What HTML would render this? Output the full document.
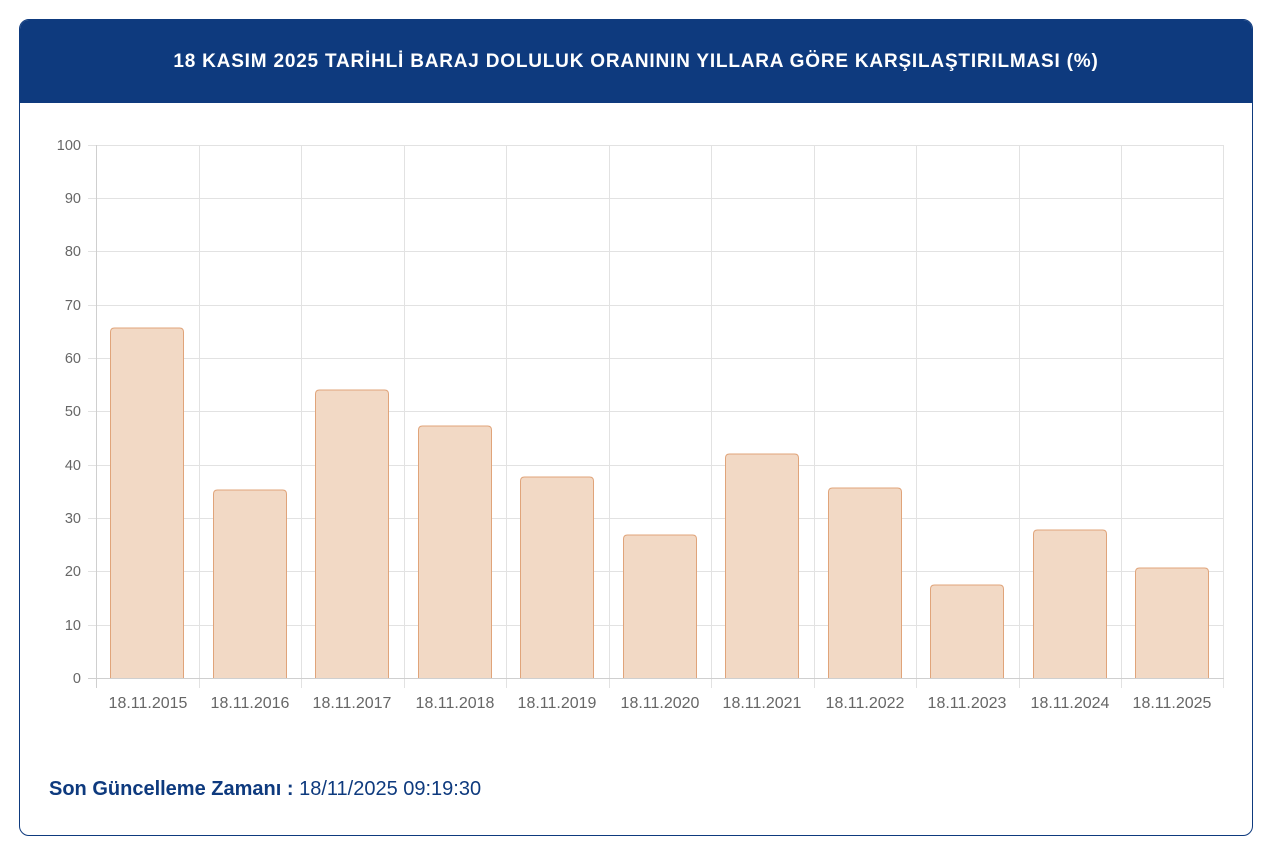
<!DOCTYPE html>
<html><head><meta charset="utf-8"><style>
body{margin:0;background:#fff;width:1280px;height:865px;overflow:hidden;font-family:"Liberation Sans",sans-serif}
.card{position:absolute;left:19px;top:19px;width:1232px;height:815px;border:1.5px solid #0e3a7e;border-radius:10px;overflow:hidden}
.hdr{height:83px;background:#0e3a7e;color:#fff;font-weight:bold;font-size:19px;letter-spacing:0.8px;text-align:center;line-height:84px}
.foot{position:absolute;left:29px;top:758px;font-size:20px;letter-spacing:0;color:#0e3a7e}
</style></head><body>
<div class="card"><div class="hdr">18 KASIM 2025 TARİHLİ BARAJ DOLULUK ORANININ YILLARA GÖRE KARŞILAŞTIRILMASI (%)</div>
<div class="foot"><b>Son Güncelleme Zamanı :</b> 18/11/2025 09:19:30</div></div>
<svg style="position:absolute;left:0;top:0" width="1280" height="865" font-family="Liberation Sans, sans-serif" font-size="14.5" fill="#666">
<g stroke="#e2e2e2" stroke-width="1">
<line x1="88" x2="1224" y1="145.5" y2="145.5"/><line x1="88" x2="1224" y1="198.5" y2="198.5"/><line x1="88" x2="1224" y1="251.5" y2="251.5"/><line x1="88" x2="1224" y1="305.5" y2="305.5"/><line x1="88" x2="1224" y1="358.5" y2="358.5"/><line x1="88" x2="1224" y1="411.5" y2="411.5"/><line x1="88" x2="1224" y1="465.5" y2="465.5"/><line x1="88" x2="1224" y1="518.5" y2="518.5"/><line x1="88" x2="1224" y1="571.5" y2="571.5"/><line x1="88" x2="1224" y1="625.5" y2="625.5"/>
<line x1="199.5" x2="199.5" y1="145" y2="688"/><line x1="301.5" x2="301.5" y1="145" y2="688"/><line x1="404.5" x2="404.5" y1="145" y2="688"/><line x1="506.5" x2="506.5" y1="145" y2="688"/><line x1="609.5" x2="609.5" y1="145" y2="688"/><line x1="711.5" x2="711.5" y1="145" y2="688"/><line x1="814.5" x2="814.5" y1="145" y2="688"/><line x1="916.5" x2="916.5" y1="145" y2="688"/><line x1="1019.5" x2="1019.5" y1="145" y2="688"/><line x1="1121.5" x2="1121.5" y1="145" y2="688"/><line x1="1223.5" x2="1223.5" y1="145" y2="688"/>
</g>
<g stroke="#cfcfcf"><line x1="88" x2="1224" y1="678.5" y2="678.5"/><line x1="96.5" x2="96.5" y1="145" y2="688"/></g>
<g text-anchor="end"><text x="81" y="150">100</text><text x="81" y="203">90</text><text x="81" y="256">80</text><text x="81" y="310">70</text><text x="81" y="363">60</text><text x="81" y="416">50</text><text x="81" y="470">40</text><text x="81" y="523">30</text><text x="81" y="576">20</text><text x="81" y="630">10</text><text x="81" y="683">0</text></g>
<g fill="#f2d9c5" stroke="#e0a47a" stroke-width="1">
<path d="M110.5,678V332q0,-4 4,-4h65q4,0 4,4V678"/>
<path d="M213.5,678V494q0,-4 4,-4h65q4,0 4,4V678"/>
<path d="M315.5,678V394q0,-4 4,-4h65q4,0 4,4V678"/>
<path d="M418.5,678V430q0,-4 4,-4h65q4,0 4,4V678"/>
<path d="M520.5,678V481q0,-4 4,-4h65q4,0 4,4V678"/>
<path d="M623.5,678V539q0,-4 4,-4h65q4,0 4,4V678"/>
<path d="M725.5,678V458q0,-4 4,-4h65q4,0 4,4V678"/>
<path d="M828.5,678V492q0,-4 4,-4h65q4,0 4,4V678"/>
<path d="M930.5,678V589q0,-4 4,-4h65q4,0 4,4V678"/>
<path d="M1033.5,678V534q0,-4 4,-4h65q4,0 4,4V678"/>
<path d="M1135.5,678V572q0,-4 4,-4h65q4,0 4,4V678"/>
</g>
<g text-anchor="middle" font-size="16"><text x="148" y="708">18.11.2015</text><text x="250" y="708">18.11.2016</text><text x="352" y="708">18.11.2017</text><text x="455" y="708">18.11.2018</text><text x="557" y="708">18.11.2019</text><text x="660" y="708">18.11.2020</text><text x="762" y="708">18.11.2021</text><text x="865" y="708">18.11.2022</text><text x="967" y="708">18.11.2023</text><text x="1070" y="708">18.11.2024</text><text x="1172" y="708">18.11.2025</text></g>
</svg>
</body></html>
